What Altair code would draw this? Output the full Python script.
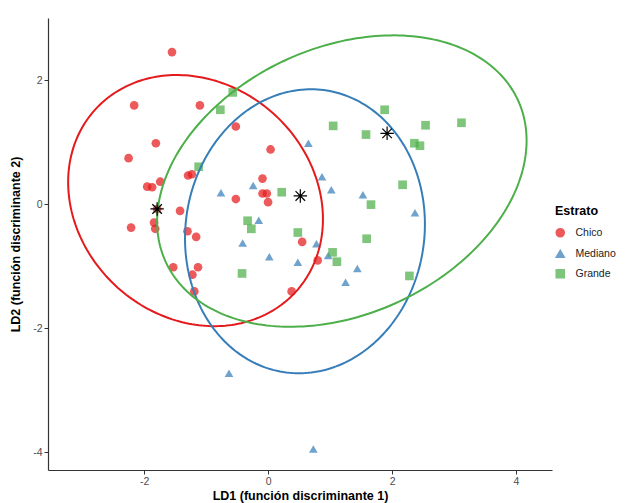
import altair as alt
import numpy as np
import pandas as pd

# ---- data ----
chico_x = [-1.55, -2.16, -1.10, -0.52, -1.81, 0.04, -2.25, -0.09, -1.29, -1.23, -1.74,
           -1.95, -1.87, -0.09, -0.02, 0.00, -0.52, -1.79, -1.42, -2.21, -1.84, -1.82,
           -1.30, -1.16, 0.55, -1.53, -1.13, -1.22, -1.19, 0.38, 0.80]
chico_y = [2.45, 1.59, 1.59, 1.25, 0.98, 0.88, 0.74, 0.41, 0.46, 0.48, 0.36,
           0.28, 0.27, 0.17, 0.17, 0.03, 0.08, -0.08, -0.11, -0.38, -0.30, -0.40,
           -0.44, -0.53, -0.61, -1.02, -1.02, -1.14, -1.41, -1.41, -0.91]

mediano_x = [0.65, 0.87, 1.02, 1.53, 2.37, -0.15, 0.78, -0.76, -0.24, -0.41, 0.02,
             0.48, 0.97, 1.44, 1.25, -0.63, 0.73]
mediano_y = [0.98, 0.44, 0.23, 0.15, -0.14, -0.26, -0.64, 0.18, 0.30, -0.63, -0.85,
             -0.94, -0.83, -1.04, -1.26, -2.73, -3.95]

grande_x = [1.88, 1.05, 1.58, 2.54, 3.12, 2.36, 2.45, 2.17, 0.22, 1.66, 0.48, 1.59,
            -0.57, -0.77, -1.12, -0.33, -0.27, 1.04, 1.11, -0.42, 2.28]
grande_y = [1.52, 1.26, 1.12, 1.27, 1.31, 0.98, 0.94, 0.31, 0.19, -0.01, -0.46, -0.56,
            1.80, 1.52, 0.60, -0.27, -0.40, -0.78, -0.93, -1.12, -1.16]

groups = ["Chico", "Mediano", "Grande"]
colors = ["#E41A1C", "#377EB8", "#4DAF4A"]
shapes = ["circle", "triangle-up", "square"]

# centroids (asterisks)
cent_x = [-1.79, 0.52, 1.92]
cent_y = [-0.08, 0.13, 1.14]

# ellipse parameters: centre, x half-extent, y half-extent, correlation
ell_cx = [-1.17, 0.595, 1.19]
ell_cy = [0.055, -0.44, 0.37]
ell_sx = [2.055, 1.935, 2.98]
ell_sy = [2.025, 2.29, 2.35]
ell_r = [-0.147, 0.05, 0.278]

x_ticks = [-2, 0, 2, 4]
y_ticks = [-4, -2, 0, 2]

# ---- build tables ----
pts = pd.concat([
    pd.DataFrame({"x": chico_x, "y": chico_y, "Estrato": "Chico"}),
    pd.DataFrame({"x": mediano_x, "y": mediano_y, "Estrato": "Mediano"}),
    pd.DataFrame({"x": grande_x, "y": grande_y, "Estrato": "Grande"}),
], ignore_index=True)

t = np.linspace(0, 2 * np.pi, 241)
rows = []
for g, cx, cy, sx, sy, r in zip(groups, ell_cx, ell_cy, ell_sx, ell_sy, ell_r):
    ex = cx + sx * np.cos(t)
    ey = cy + sy * (r * np.cos(t) + np.sqrt(1 - r * r) * np.sin(t))
    for i, (a, b) in enumerate(zip(ex, ey)):
        rows.append({"x": a, "y": b, "Estrato": g, "i": i})
ell = pd.DataFrame(rows)

cent = pd.DataFrame({"x": cent_x, "y": cent_y, "Estrato": groups})

xs = alt.Scale(domain=[-3.55, 4.58], nice=False, zero=False)
ys = alt.Scale(domain=[-4.29, 3.0], nice=False, zero=False)
cscale = alt.Scale(domain=groups, range=colors)

lab_expr = "replace(format(datum.value, 'd'), '\u2212', '-')"
xenc = alt.X("x:Q", scale=xs, title="LD1 (función discriminante 1)",
             axis=alt.Axis(values=x_ticks, titlePadding=3, labelExpr=lab_expr))
yenc = alt.Y("y:Q", scale=ys, title="LD2 (función discriminante 2)",
             axis=alt.Axis(values=y_ticks, titlePadding=10, labelExpr=lab_expr))

points = alt.Chart(pts).mark_point(filled=True, opacity=0.72, size=75).encode(
    x=xenc, y=yenc,
    color=alt.Color("Estrato:N", scale=cscale, sort=groups,
                    legend=alt.Legend(title="Estrato", orient="none",
                                      legendX=507, legendY=187)),
    shape=alt.Shape("Estrato:N", scale=alt.Scale(domain=groups, range=shapes), sort=groups),
)

ellipses = alt.Chart(ell).mark_line(strokeWidth=2).encode(
    x=alt.X("x:Q", scale=xs), y=alt.Y("y:Q", scale=ys),
    color=alt.Color("Estrato:N", scale=cscale, legend=None),
    detail="Estrato:N",
    order="i:Q",
)

asterisk = "M-1,0L1,0M0,-1L0,1M-0.71,-0.71L0.71,0.71M-0.71,0.71L0.71,-0.71"
centroids = alt.Chart(cent).mark_point(shape=asterisk, size=180, color="black",
                                       strokeWidth=1.2, filled=False, opacity=1).encode(
    x=alt.X("x:Q", scale=xs), y=alt.Y("y:Q", scale=ys),
)

chart = alt.layer(points, ellipses, centroids).properties(
    width=504, height=452,
    autosize=alt.AutoSizeParams(type="none"),
    padding={"left": 40, "top": 10, "right": 80, "bottom": 33},
).configure_view(stroke=None).configure_axis(
    grid=False, domainColor="#333333", domainWidth=1.2, tickColor="#333333",
    tickSize=4, labelColor="#4D4D4D", labelFontSize=10.5, labelFont="Liberation Sans",
    titleFont="Liberation Sans", titleFontSize=12.5, titleFontWeight="bold",
    titleColor="black", labelPadding=2,
).configure_legend(
    titleFont="Liberation Sans", titleFontSize=12.5, titleFontWeight="bold",
    titleColor="black", labelFont="Liberation Sans", labelFontSize=10.5,
    labelColor="#222222", symbolSize=65, rowPadding=6, titlePadding=10,
    symbolOpacity=0.72, labelOffset=10,
)

chart.save("out.html", embed_options={"renderer": "svg", "actions": False})
